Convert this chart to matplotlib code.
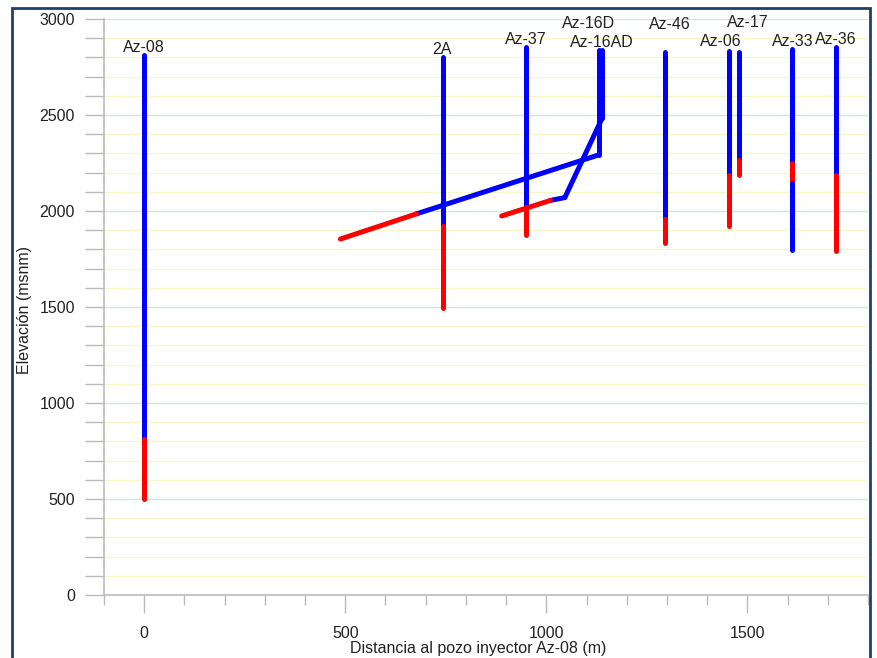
import matplotlib
matplotlib.use('Agg')
import matplotlib.pyplot as plt
from matplotlib.patches import Rectangle

matplotlib.rc('font', **{'family': ['Liberation Sans', 'DejaVu Sans'], 'size': 11.5})

BLUE = '#0000ff'
RED = '#ff0000'

# well trajectories: (distance, elevation) vertices, colour of each segment
wells = ['Az-08', '2A', 'Az-37', 'Az-16D', 'Az-16AD', 'Az-46', 'Az-06', 'Az-17', 'Az-33', 'Az-36']
well_x = [
    [0, 0, 0],
    [744, 744, 744],
    [949, 949, 949],
    [1130, 1130, 677, 488],
    [1139, 1139, 1046, 1010, 889],
    [1296, 1296, 1296],
    [1455, 1455, 1455],
    [1478, 1478, 1478],
    [1612, 1612, 1612, 1612],
    [1721, 1721, 1721],
]
well_y = [
    [2810, 815, 500],
    [2802, 1922, 1495],
    [2854, 2022, 1875],
    [2838, 2292, 1985, 1854],
    [2838, 2484, 2070, 2055, 1974],
    [2828, 1958, 1833],
    [2833, 2187, 1922],
    [2828, 2266, 2187],
    [2844, 2250, 2146, 1797],
    [2854, 2187, 1792],
]
seg_colors = [
    [BLUE, RED],
    [BLUE, RED],
    [BLUE, RED],
    [BLUE, BLUE, RED],
    [BLUE, BLUE, BLUE, RED],
    [BLUE, RED],
    [BLUE, RED],
    [BLUE, RED],
    [BLUE, RED, BLUE],
    [BLUE, RED],
]
label_x = [0, 741, 948, 1104, 1139, 1308, 1435, 1500, 1612, 1721]
label_y = [2852, 2839, 2891, 2979, 2880, 2969, 2885, 2984, 2885, 2891]

fig = plt.figure(figsize=(8.77, 6.58), dpi=100)
ax = fig.add_axes([104 / 877, 1 - 595 / 658, (868 - 104) / 877, (595 - 19) / 658])

# dark blue frame around the figure (bottom edge is cut off)
fig.patches.append(Rectangle((12 / 877, -0.05), (870 - 12) / 877, 1.05 - 8 / 658,
                             transform=fig.transFigure, fill=False,
                             edgecolor='#1f3f6e', linewidth=2.0))

ax.set_xlim(-100, 1800)
ax.set_ylim(0, 3000)

# horizontal grid: yellow every 100, green every 500
for yv in range(100, 3001, 100):
    if yv % 500 == 0:
        ax.axhline(yv, color='#c8ecd8', linewidth=1.0, zorder=0)
    else:
        ax.axhline(yv, color='#f7f7c8', linewidth=1.0, zorder=0)

for xs, ys, cols in zip(well_x, well_y, seg_colors):
    for i, c in enumerate(cols):
        ax.plot(xs[i:i + 2], ys[i:i + 2], color=c, linewidth=3.6,
                solid_capstyle='round', solid_joinstyle='round', zorder=3)

for name, lx, ly in zip(wells, label_x, label_y):
    ax.text(lx, ly, name, ha='center', va='center', fontsize=11.5,
            color='#222222', clip_on=False, zorder=4)

for s in ['top', 'right']:
    ax.spines[s].set_visible(False)
for s in ['left', 'bottom']:
    ax.spines[s].set_color('#bbbbbb')
    ax.spines[s].set_linewidth(1.2)

ax.set_xticks([0, 500, 1000, 1500])
ax.set_xticks(range(-100, 1801, 100), minor=True)
ax.set_yticks([0, 500, 1000, 1500, 2000, 2500, 3000])
ax.set_yticks(range(0, 3001, 100), minor=True)
ax.tick_params(axis='x', which='major', direction='out', length=13, width=1, color='#bbbbbb',
               pad=9, labelsize=11.5, labelcolor='#222222')
ax.tick_params(axis='x', which='minor', direction='out', length=7, width=1, color='#bbbbbb')
ax.tick_params(axis='y', which='both', direction='out', length=14, width=1, color='#bbbbbb',
               pad=7, labelsize=11.5, labelcolor='#222222')

ax.set_xlabel('Distancia al pozo inyector Az-08 (m)', fontsize=11.5, color='#222222')
ax.set_ylabel('Elevación (msnm)', fontsize=11.5, color='#222222')
ax.xaxis.set_label_coords((478 - 104) / (868 - 104), -(649 - 595) / (595 - 19))
ax.xaxis.label.set_va('center')
ax.yaxis.set_label_coords(-(104 - 25) / (868 - 104), (595 - 310) / (595 - 19))
ax.yaxis.label.set_va('center')

fig.savefig('out.png', dpi=100)
